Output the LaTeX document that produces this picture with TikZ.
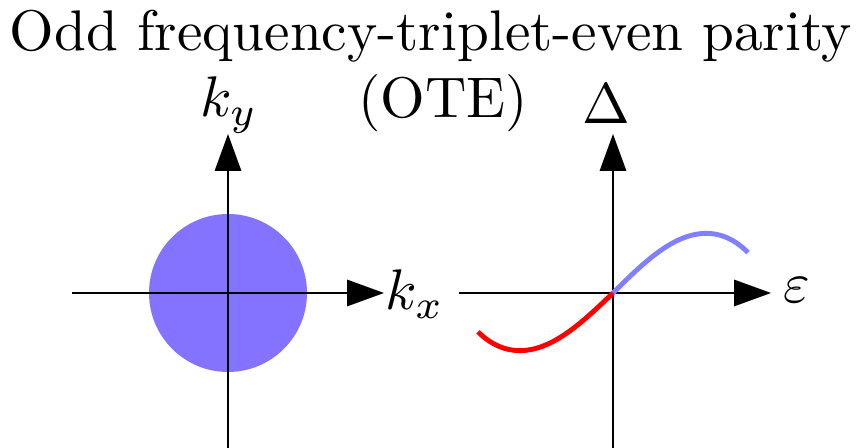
\documentclass[tikz,border=0pt]{standalone}
\usetikzlibrary{arrows.meta}
\definecolor{discblue}{RGB}{132,115,255}
\definecolor{curveblue}{RGB}{128,128,255}
\definecolor{curvered}{RGB}{255,0,0}
\newcommand{\bigtxt}[1]{\scalebox{3.26}{#1}}
\begin{document}
\begin{tikzpicture}[x=0.02cm,y=-0.02cm,
  axis/.style={line width=1.1pt,-{Triangle[length=21pt,width=15pt]}},
  lbl/.style={inner sep=0pt,font=\normalsize},
  curve/.style={line width=2.8pt}]
\useasboundingbox (0,0) rectangle (863,448);
% title
\node[lbl] (title) at (431,36) {\bigtxt{Odd frequency-triplet-even parity}};
\node[lbl] (ote) at (443,103) {\bigtxt{(OTE)}};
% left plot
\fill[discblue] (228,293) circle[radius=79];
\coordinate (lo) at (228,293);
\coordinate (lbot) at (228,448);
\coordinate (ltop) at (228,134);
\coordinate (lleft) at (72,293);
\coordinate (lright) at (384,293);
\draw[axis] (lbot) -- (ltop);
\draw[axis] (lleft) -- (lright);
\node[lbl] (ky) at (229,105) {\bigtxt{$k_y$}};
\node[lbl] (kx) at (415,294) {\bigtxt{$k_x$}};
% right plot
\coordinate (ro) at (613,293);
\coordinate (rbot) at (613,448);
\coordinate (rtop) at (613,134);
\coordinate (rleft) at (459,293);
\coordinate (rright) at (771,293);
\draw[axis] (rbot) -- (rtop);
\draw[axis] (rleft) -- (rright);
\node[lbl] (delta) at (606,104) {\bigtxt{$\Delta$}};
\node[lbl] (eps) at (797,290) {\bigtxt{$\varepsilon$}};
\draw[curve,curvered] plot[domain=0:135,samples=70,smooth] ({613-\x},{293+58*sin(\x*0.947)-7*pow(\x/135,8)});
\draw[curve,curveblue] plot[domain=0:135,samples=70,smooth] ({613+\x},{293-60*sin(\x*0.947)+7*pow(\x/135,8)});
\end{tikzpicture}
\end{document}
